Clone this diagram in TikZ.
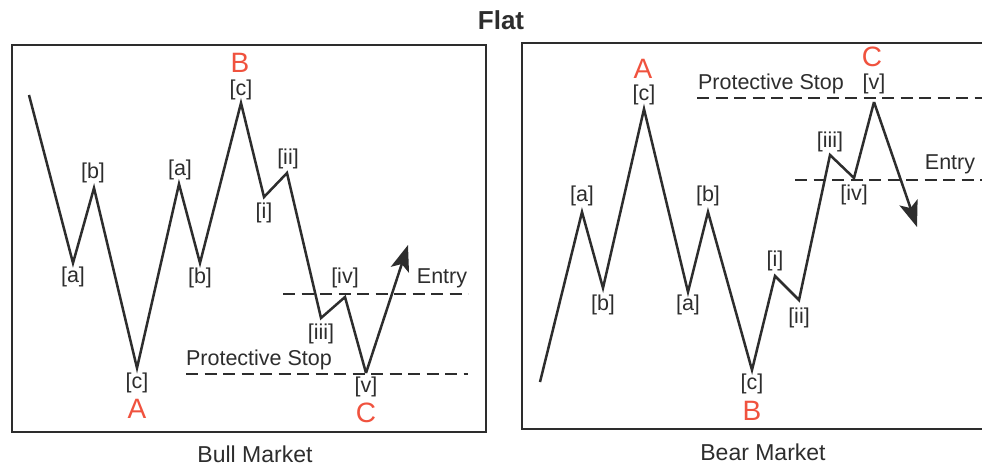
\documentclass[tikz,border=0pt]{standalone}
\usepackage{fontspec}
\setmainfont{Liberation Sans}
\usetikzlibrary{arrows.meta}
\definecolor{ink}{RGB}{45,45,45}
\definecolor{wred}{RGB}{240,82,62}
\tikzset{
  panel/.style={draw=ink, line width=2.4pt},
  wave/.style={draw=ink, line width=2.5pt, line join=miter},
  stopline/.style={draw=ink, line width=2.2pt, dash pattern=on 12pt off 6.5pt},
  lbl/.style={font=\fontsize{21.5}{25}\selectfont, text=ink, inner sep=0pt},
  biglbl/.style={font=\fontsize{28}{32}\selectfont, text=wred, inner sep=0pt},
  captionlbl/.style={font=\fontsize{23}{27}\selectfont, text=ink, inner sep=0pt},
  wavetip/.style={-{Stealth[length=26pt,width=19pt,inset=6pt]}}
}
\begin{document}
\begin{tikzpicture}[x=1pt,y=-1pt]
\useasboundingbox (0,0) rectangle (982,467);
\clip (0,0) rectangle (982,467);
\fill[white] (0,0) rectangle (982,467);

\node[font=\bfseries\fontsize{26}{30}\selectfont, text=ink, inner sep=0pt] (title) at (501,20) {Flat};

% ---------- Left panel: Bull Market ----------
\draw[panel] (12,45) rectangle (486,432);
\coordinate (L0) at (29,95);
\coordinate (La1) at (73,263);
\coordinate (Lb1) at (94,188);
\coordinate (Lc1) at (137,368);
\coordinate (La2) at (179,184);
\coordinate (Lb2) at (200,263);
\coordinate (Lc2) at (241,103);
\coordinate (Li) at (264,197);
\coordinate (Lii) at (287,173);
\coordinate (Liii) at (321,318);
\coordinate (Liv) at (345,297);
\coordinate (Lv) at (366,373);
\coordinate (Lend) at (408,245);

\coordinate (LEs) at (283,294); \coordinate (LEe) at (468,294);
\coordinate (LSs) at (186,374); \coordinate (LSe) at (468,374);
\draw[stopline] (LEs) -- (LEe);
\draw[stopline] (LSs) -- (LSe);

\draw[wave] (L0) -- (La1) -- (Lb1) -- (Lc1) -- (La2) -- (Lb2) -- (Lc2) -- (Li) -- (Lii) -- (Liii) -- (Liv) -- (Lv);
\draw[wave, wavetip] (Lv) -- (Lend);

\node[lbl] (la1) at (73,277) {[a]};
\node[lbl] (lb1) at (93,173) {[b]};
\node[lbl] (lc1) at (137,383) {[c]};
\node[biglbl] (lA) at (137,409) {A};
\node[lbl] (la2) at (180,170) {[a]};
\node[lbl] (lb2) at (200,278) {[b]};
\node[lbl] (lc2) at (241,90) {[c]};
\node[biglbl] (lB) at (240,63) {B};
\node[lbl] (li) at (264,213) {[i]};
\node[lbl] (lii) at (288,159) {[ii]};
\node[lbl] (liii) at (321,334) {[iii]};
\node[lbl] (liv) at (345,278) {[iv]};
\node[lbl] (lv) at (366,387) {[v]};
\node[biglbl] (lC) at (366,413) {C};
\node[lbl] (lentry) at (442,278) {Entry};
\node[lbl] (lstop) at (259,360) {Protective Stop};
\node[captionlbl] (bull) at (255,454) {Bull Market};

% ---------- Right panel: Bear Market ----------
\draw[panel] (522,43) rectangle (1000,429);
\coordinate (R0) at (540,382);
\coordinate (Ra1) at (582,212);
\coordinate (Rb1) at (603,288);
\coordinate (Rc1) at (644,109);
\coordinate (Ra2) at (688,292);
\coordinate (Rb2) at (708,212);
\coordinate (Rc2) at (752,370);
\coordinate (Ri) at (775,276);
\coordinate (Rii) at (799,300);
\coordinate (Riii) at (830,155);
\coordinate (Riv) at (854,178);
\coordinate (Rv) at (874,102);
\coordinate (Rend) at (917,227);

\coordinate (RSs) at (697,98); \coordinate (RSe) at (985,98);
\coordinate (REs) at (795,180); \coordinate (REe) at (985,180);
\draw[stopline] (RSs) -- (RSe);
\draw[stopline] (REs) -- (REe);

\draw[wave] (R0) -- (Ra1) -- (Rb1) -- (Rc1) -- (Ra2) -- (Rb2) -- (Rc2) -- (Ri) -- (Rii) -- (Riii) -- (Riv) -- (Rv);
\draw[wave, wavetip] (Rv) -- (Rend);

\node[lbl] (ra1) at (582,196) {[a]};
\node[lbl] (rb1) at (603,305) {[b]};
\node[lbl] (rc1) at (644,95) {[c]};
\node[biglbl] (rA) at (643,69) {A};
\node[lbl] (ra2) at (688,305) {[a]};
\node[lbl] (rb2) at (708,196) {[b]};
\node[lbl] (rc2) at (752,384) {[c]};
\node[biglbl] (rB) at (752,411) {B};
\node[lbl] (ri) at (775,261) {[i]};
\node[lbl] (rii) at (799,318) {[ii]};
\node[lbl] (riii) at (830,142) {[iii]};
\node[lbl] (riv) at (854,195) {[iv]};
\node[lbl] (rv) at (874,84) {[v]};
\node[biglbl] (rC) at (872,57) {C};
\node[lbl] (rentry) at (950,164) {Entry};
\node[lbl] (rstop) at (771,84) {Protective Stop};
\node[captionlbl] (bear) at (763,452) {Bear Market};
\end{tikzpicture}
\end{document}
